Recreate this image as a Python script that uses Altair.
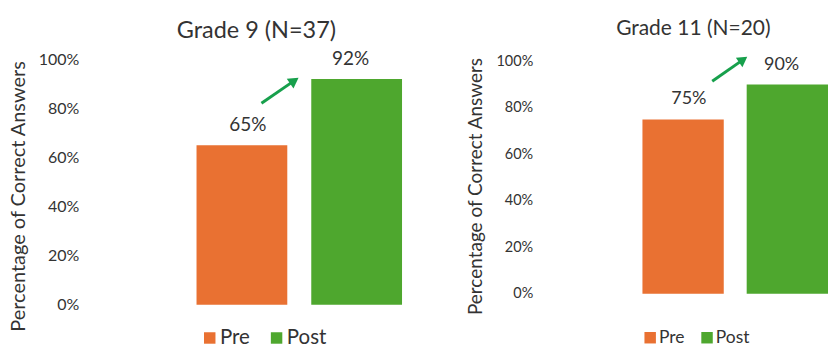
import math

import altair as alt
import pandas as pd

# ---- data -------------------------------------------------------------
phases = ["Pre", "Post"]
phase_colors = ["#E97132", "#4EA72E"]
score_ticks = [0.0, 0.2, 0.4, 0.6, 0.8, 1.0]

grade9_title = "Grade 9 (N=37)"
grade9_scores = [0.65, 0.92]
grade11_title = "Grade 11 (N=20)"
grade11_scores = [0.75, 0.90]

# improvement arrow: tail and head centre; x as a share of the bar area,
# y on the score scale
grade9_arrow_x = [0.316, 0.476]
grade9_arrow_y = [0.821, 0.913]
grade11_arrow_x = [0.376, 0.543]
grade11_arrow_y = [0.914, 1.007]

FONT = "Lato"
TEXT = "#333333"
ARROW = "#17a04c"
Y_TITLE = "Percentage of Correct Answers"


def panel(title, scores, arrow_x, arrow_y, s):
    bars_df = pd.DataFrame({"phase": phases, "score": scores})
    arrow_df = pd.DataFrame({"pos": arrow_x, "score": arrow_y})

    x_band = alt.X(
        "phase:N",
        sort=phases,
        axis=None,
        scale=alt.Scale(paddingInner=s["gap"], paddingOuter=0),
    )
    y = alt.Y(
        "score:Q",
        scale=alt.Scale(domain=s["domain"], nice=False, zero=False),
        axis=alt.Axis(
            values=score_ticks,
            format=".0%",
            domain=False,
            ticks=False,
            grid=False,
            offset=s["axis_offset"],
            labelPadding=4,
            labelFont=FONT,
            labelFontSize=s["tick_size"],
            labelColor=TEXT,
            title=Y_TITLE,
            titleFont=FONT,
            titleFontSize=s["ytitle_size"],
            titleFontWeight="normal",
            titleColor=TEXT,
            titlePadding=s["ytitle_pad"],
            titleY=s["ytitle_y"],
        ),
    )
    x_arrow = alt.X(
        "pos:Q", scale=alt.Scale(domain=[0, 1], nice=False, zero=False), axis=None
    )

    bars = (
        alt.Chart(bars_df)
        .mark_bar()
        .encode(
            x=x_band,
            y=y,
            color=alt.Color(
                "phase:N",
                sort=phases,
                scale=alt.Scale(domain=phases, range=phase_colors),
                legend=alt.Legend(
                    title=None,
                    orient="none",
                    direction="horizontal",
                    legendX=s["legend_x"],
                    legendY=s["legend_y"],
                    symbolType="square",
                    symbolSize=s["symbol_size"],
                    symbolStrokeWidth=0,
                    labelFont=FONT,
                    labelFontSize=s["legend_size"],
                    labelColor=TEXT,
                    labelOffset=0,
                    columnPadding=s["legend_gap"],
                    padding=0,
                ),
            ),
        )
    )

    labels = (
        alt.Chart(bars_df)
        .mark_text(
            dy=-20, baseline="middle", font=FONT, fontSize=s["label_size"], color=TEXT
        )
        .encode(x=x_band, y=y, text=alt.Text("score:Q", format=".0%"))
    )

    # on-screen direction of the arrow, used to turn the head
    dx_px = (arrow_x[1] - arrow_x[0]) * s["width"]
    dy_px = (arrow_y[1] - arrow_y[0]) * s["height"] / (s["domain"][1] - s["domain"][0])
    head_angle = 90 - math.degrees(math.atan2(dy_px, dx_px))

    shaft = (
        alt.Chart(arrow_df)
        .mark_line(color=ARROW, strokeWidth=3)
        .encode(x=x_arrow, y=y)
    )
    head = (
        alt.Chart(arrow_df.tail(1))
        .mark_point(
            shape="triangle-up",
            filled=True,
            size=s["head_size"],
            color=ARROW,
            opacity=1,
            angle=head_angle,
        )
        .encode(x=x_arrow, y=y)
    )

    return (
        alt.layer(bars, labels, shaft, head)
        .resolve_scale(x="independent")
        .properties(
            width=s["width"],
            height=s["height"],
            title=alt.TitleParams(
                title,
                font=FONT,
                fontSize=s["title_size"],
                fontWeight="normal",
                color=TEXT,
                anchor="middle",
                frame="group",
                dx=s["title_dx"],
                offset=s["title_offset"],
            ),
        )
    )


left_style = dict(
    width=206, height=246, domain=[0.0, 1.0], gap=0.209,
    axis_offset=114, tick_size=16, ytitle_size=20, ytitle_pad=10, ytitle_y=137,
    label_size=19, title_size=23.5, title_dx=-43, title_offset=8,
    legend_x=3, legend_y=269, symbol_size=132, legend_size=20.5, legend_gap=16,
    head_size=140,
)
right_style = dict(
    width=186, height=246, domain=[-11 / 233, 235 / 233], gap=0.22,
    axis_offset=106, tick_size=14.5, ytitle_size=19, ytitle_pad=10.5, ytitle_y=127,
    label_size=18, title_size=21, title_dx=-42, title_offset=14,
    legend_x=-1, legend_y=270, symbol_size=132, legend_size=17.5, legend_gap=13,
    head_size=130,
)

chart = (
    alt.hconcat(
        panel(grade9_title, grade9_scores, grade9_arrow_x, grade9_arrow_y, left_style),
        panel(grade11_title, grade11_scores, grade11_arrow_x, grade11_arrow_y, right_style),
        spacing=64,
    )
    .resolve_scale(color="independent")
    .resolve_legend(color="independent")
    .properties(
        padding={"left": 8, "top": 17, "right": 0, "bottom": 0},
        background="white",
    )
    .configure_view(stroke=None)
)

chart.save("out.html", embed_options={"renderer": "svg", "actions": False})
